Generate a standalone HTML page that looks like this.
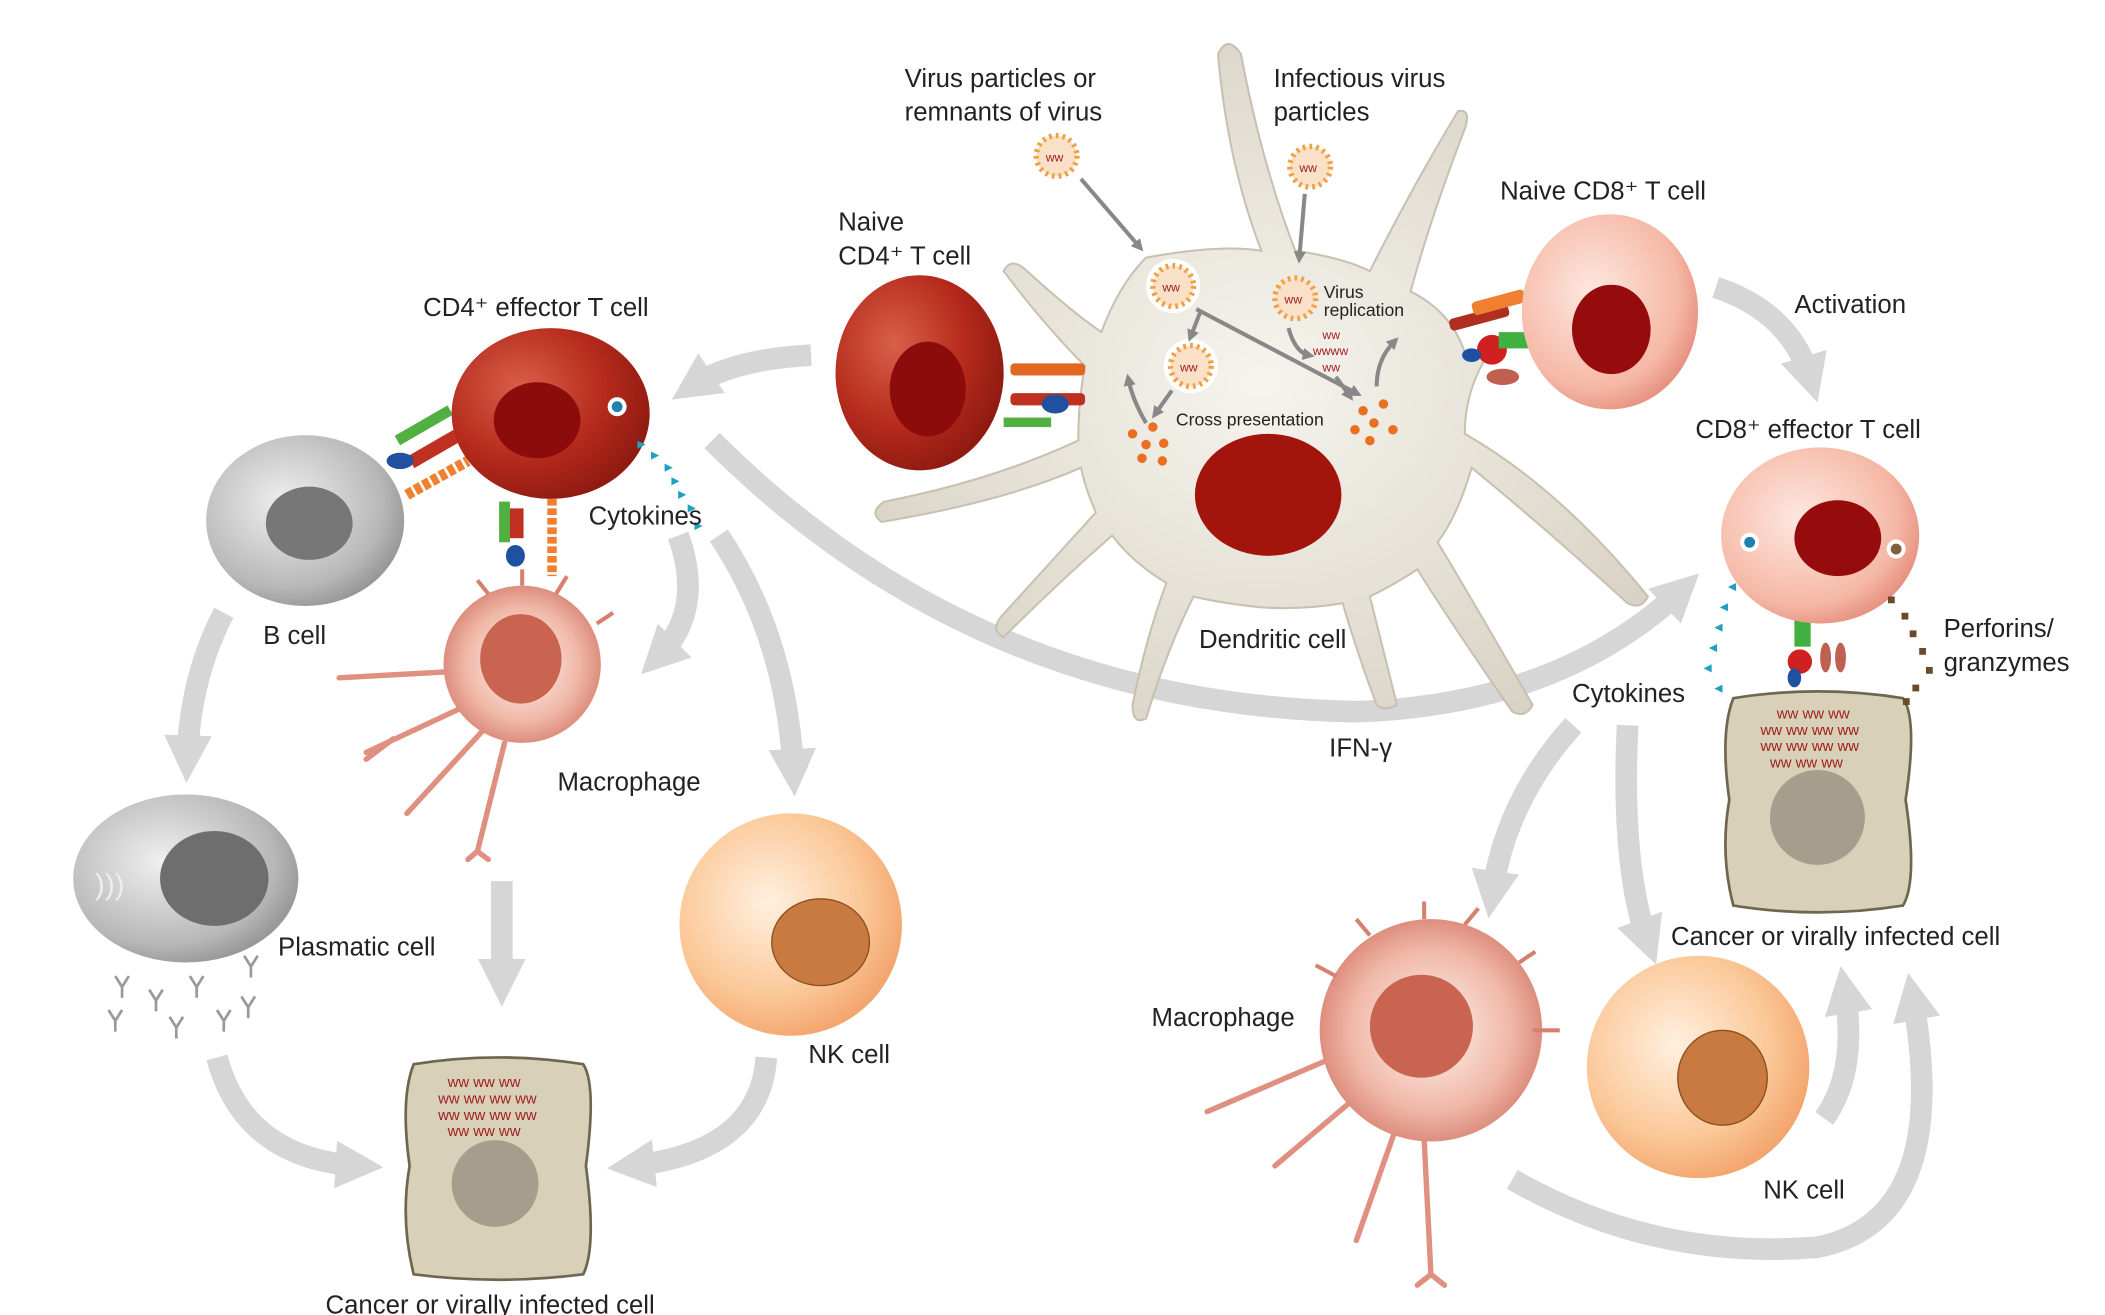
<!DOCTYPE html>
<html><head><meta charset="utf-8"><style>
html,body{margin:0;padding:0;background:#fff;}
svg{display:block;}
text{font-family:"Liberation Sans",sans-serif;fill:#222;}
</style></head><body>
<svg width="2105" height="1315" viewBox="0 0 1552 970" preserveAspectRatio="none" xmlns="http://www.w3.org/2000/svg">
<defs>
<radialGradient id="dred" cx="0.35" cy="0.35" r="0.7"><stop offset="0" stop-color="#d8604a"/><stop offset="0.6" stop-color="#b52a1c"/><stop offset="1" stop-color="#8e1a10"/></radialGradient>
<radialGradient id="pink" cx="0.4" cy="0.4" r="0.7"><stop offset="0" stop-color="#fde8e0"/><stop offset="0.7" stop-color="#f6b8a6"/><stop offset="1" stop-color="#e08070"/></radialGradient>
<radialGradient id="gray" cx="0.4" cy="0.4" r="0.7"><stop offset="0" stop-color="#f0f0f0"/><stop offset="0.7" stop-color="#b8b8b8"/><stop offset="1" stop-color="#888"/></radialGradient>
<radialGradient id="peach" cx="0.4" cy="0.4" r="0.7"><stop offset="0" stop-color="#fff0e0"/><stop offset="0.6" stop-color="#fbc898"/><stop offset="1" stop-color="#f09a60"/></radialGradient>
<radialGradient id="mac" cx="0.5" cy="0.5" r="0.6"><stop offset="0" stop-color="#fff6f2"/><stop offset="0.6" stop-color="#f0b8a8"/><stop offset="1" stop-color="#d07060"/></radialGradient>
<radialGradient id="dc" cx="0.5" cy="0.5" r="0.6"><stop offset="0" stop-color="#f6f4ee"/><stop offset="1" stop-color="#d8d2c4"/></radialGradient>
<marker id="ah" viewBox="0 0 10 10" refX="5" refY="5" markerWidth="2.2" markerHeight="2.2" orient="auto"><path d="M0,0 L10,5 L0,10 z" fill="#d6d6d6"/></marker>
<marker id="sa" viewBox="0 0 10 10" refX="5" refY="5" markerWidth="3" markerHeight="3" orient="auto"><path d="M0,0 L10,5 L0,10 z" fill="#888"/></marker>
</defs>

<g fill="none" stroke="#d6d6d6" stroke-width="16" marker-end="url(#ah)">
<path d="M598,262 Q540,265 510,285"/>
<path d="M525,325 Q720,520 1000,525 Q1150,520 1240,435"/>
<path d="M1265,212 Q1320,230 1335,280"/>
<path d="M165,452 Q140,500 138,560"/>
<path d="M500,395 Q520,450 485,485"/>
<path d="M530,395 Q580,470 585,570"/>
<path d="M370,650 L370,725"/>
<path d="M160,780 Q180,855 265,860"/>
<path d="M565,780 Q560,850 465,860"/>
<path d="M1160,535 Q1110,590 1100,660"/>
<path d="M1200,535 Q1195,640 1215,695"/>
<path d="M1345,825 Q1370,790 1360,730"/>
<path d="M1115,870 Q1220,930 1340,920 Q1440,900 1410,735"/>
</g>

<g fill="url(#dc)" stroke="#c8c0b0" stroke-width="1.5">
<path d="M845,190 Q900,180 930,185 Q905,120 898,40 Q905,25 915,40 Q930,120 955,185 Q990,190 1010,200 Q1040,140 1075,82 Q1085,80 1080,95 Q1055,160 1040,215 Q1070,230 1080,260 L1095,265 Q1080,290 1080,320 Q1150,360 1215,440 Q1210,450 1200,445 Q1140,390 1085,345 Q1075,380 1060,400 Q1090,450 1130,520 Q1125,530 1115,525 Q1070,460 1045,420 Q1030,430 1010,440 Q1020,480 1030,520 Q1020,525 1015,520 Q1000,480 990,445 Q960,450 930,448 Q900,445 880,440 Q860,480 845,530 Q835,535 835,520 Q845,470 860,430 Q835,415 820,395 Q780,430 740,470 Q730,465 738,455 Q770,420 808,378 Q800,360 797,345 Q740,370 650,385 Q640,378 652,370 Q730,355 795,325 Q795,295 800,270 Q770,240 740,200 Q745,190 755,198 Q790,230 812,245 Q825,210 845,190 Z"/>
</g>
<ellipse cx="935" cy="365" rx="54" ry="45" fill="#a3140c"/>

<g>
<circle cx="779" cy="115" r="15" fill="#fbe0c8" stroke="#f0a040" stroke-width="4" stroke-dasharray="2 3"/>
<circle cx="966" cy="123" r="15" fill="#fbe0c8" stroke="#f0a040" stroke-width="4" stroke-dasharray="2 3"/>
<circle cx="865" cy="211" r="20" fill="#fff"/><circle cx="865" cy="211" r="15" fill="#fbe0c8" stroke="#f0a040" stroke-width="4" stroke-dasharray="2 3"/>
<circle cx="878" cy="270" r="20" fill="#fff"/><circle cx="878" cy="270" r="15" fill="#fbe0c8" stroke="#f0a040" stroke-width="4" stroke-dasharray="2 3"/>
<circle cx="955" cy="220" r="15" fill="#fbe0c8" stroke="#f0a040" stroke-width="4" stroke-dasharray="2 3"/>
<g font-size="9"><text x="771" y="119" style="fill:#a02020">ww</text><text x="958" y="127" style="fill:#a02020">ww</text><text x="857" y="215" style="fill:#a02020">ww</text><text x="870" y="274" style="fill:#a02020">ww</text><text x="947" y="224" style="fill:#a02020">ww</text>
<text x="975" y="250" style="fill:#a02020">ww</text><text x="968" y="262" style="fill:#a02020">wwww</text><text x="975" y="274" style="fill:#a02020">ww</text></g>
<g fill="#e87020"><circle cx="835" cy="320" r="3.5"/><circle cx="850" cy="315" r="3.5"/><circle cx="845" cy="328" r="3.5"/><circle cx="858" cy="327" r="3.5"/><circle cx="842" cy="338" r="3.5"/><circle cx="857" cy="340" r="3.5"/>
<circle cx="1005" cy="303" r="3.5"/><circle cx="1020" cy="298" r="3.5"/><circle cx="1013" cy="312" r="3.5"/><circle cx="1027" cy="317" r="3.5"/><circle cx="999" cy="317" r="3.5"/><circle cx="1010" cy="325" r="3.5"/></g>
<g stroke="#888" stroke-width="3" fill="none" marker-end="url(#sa)">
<path d="M797,132 L840,182"/><path d="M962,143 L958,190"/><path d="M882,228 L1000,290"/><path d="M885,230 L878,248"/><path d="M864,288 L852,305"/><path d="M845,312 Q835,295 832,280"/><path d="M950,242 Q955,260 965,262"/><path d="M985,278 L995,292"/><path d="M1015,285 Q1015,265 1028,252"/>
</g>
</g>

<g>
<rect x="745" y="268" width="55" height="9" fill="#e06820" rx="3"/>
<rect x="745" y="290" width="55" height="9" fill="#c03020" rx="3"/>
<ellipse cx="778" cy="298" rx="10" ry="7" fill="#2050a0"/>
<rect x="740" y="308" width="35" height="7" fill="#50b040"/>
<rect x="1068" y="230" width="45" height="9" fill="#b03020" rx="3" transform="rotate(-15 1090 234)"/>
<rect x="1085" y="218" width="40" height="10" fill="#f08030" rx="3" transform="rotate(-15 1105 223)"/>
<circle cx="1100" cy="258" r="11" fill="#d02020"/><rect x="1105" y="245" width="22" height="12" fill="#40b040"/><ellipse cx="1085" cy="262" rx="7" ry="5" fill="#2050a0"/>
<ellipse cx="1108" cy="278" rx="12" ry="6" fill="#c06050"/>
<rect x="290" y="310" width="45" height="8" fill="#50b040" transform="rotate(-30 312 314)"/>
<rect x="300" y="325" width="45" height="10" fill="#c03020" transform="rotate(-30 322 330)"/>
<ellipse cx="295" cy="340" rx="10" ry="6" fill="#2050a0"/>
<line x1="300" y1="365" x2="345" y2="340" stroke="#f08030" stroke-width="8" stroke-dasharray="5 2"/>
<rect x="368" y="370" width="8" height="30" fill="#50b040"/><rect x="376" y="375" width="10" height="22" fill="#c03020"/><ellipse cx="380" cy="410" rx="7" ry="8" fill="#2050a0"/>
<line x1="407" y1="368" x2="407" y2="425" stroke="#f08030" stroke-width="7" stroke-dasharray="5 2"/>
<rect x="1323" y="455" width="12" height="22" fill="#40b040"/><circle cx="1327" cy="488" r="9" fill="#d02020"/><ellipse cx="1323" cy="500" rx="5" ry="7" fill="#2050a0"/>
<ellipse cx="1346" cy="485" rx="4" ry="11" fill="#c06050"/><ellipse cx="1357" cy="485" rx="4" ry="11" fill="#c06050"/>
</g>

<ellipse cx="678" cy="275" rx="62" ry="72" fill="url(#dred)"/><ellipse cx="684" cy="287" rx="28" ry="35" fill="#8c0c0c"/>
<ellipse cx="406" cy="305" rx="73" ry="63" fill="url(#dred)"/><ellipse cx="396" cy="310" rx="32" ry="28" fill="#8c0c0c"/>
<circle cx="455" cy="300" r="7" fill="#fff"/><circle cx="455" cy="300" r="4" fill="#2080b0"/>
<ellipse cx="225" cy="384" rx="73" ry="63" fill="url(#gray)"/><ellipse cx="228" cy="386" rx="32" ry="27" fill="#777"/>
<ellipse cx="137" cy="648" rx="83" ry="62" fill="url(#gray)"/><ellipse cx="158" cy="648" rx="40" ry="35" fill="#6e6e6e"/>
<text x="70" y="660" font-size="22" style="fill:#eee">)))</text>
<ellipse cx="1187" cy="230" rx="65" ry="72" fill="url(#pink)"/><ellipse cx="1188" cy="243" rx="29" ry="33" fill="#960c0c"/>
<ellipse cx="1342" cy="395" rx="73" ry="65" fill="url(#pink)"/><ellipse cx="1355" cy="397" rx="32" ry="28" fill="#960c0c"/>
<circle cx="1290" cy="400" r="7" fill="#fff"/><circle cx="1290" cy="400" r="4" fill="#2080b0"/><circle cx="1398" cy="405" r="7" fill="#fff"/><circle cx="1398" cy="405" r="4" fill="#806040"/>

<g fill="none" stroke="#e09080" stroke-width="4" stroke-linecap="round">
<path d="M340,495 L250,500 M345,520 L270,555 M290,545 L270,560 M355,540 L300,600 M372,548 L352,628 M352,628 L345,634 M352,628 L360,634"/>
<path d="M995,775 L890,820 M1005,805 L940,860 M1030,830 L1000,915 M1050,840 L1055,940 M1055,940 L1045,948 M1055,940 L1065,948"/>
</g>
<g fill="url(#mac)">
<circle cx="385" cy="490" r="58"/>
<circle cx="1055" cy="760" r="82"/>
</g>
<g stroke="#d88070" stroke-width="3"><path d="M385,432 V420 M410,438 L418,425 M440,460 L452,452 M360,438 L352,428 M1050,678 V665 M1080,682 L1090,670 M1120,710 L1132,702 M1130,760 H1150 M1010,690 L1000,678 M985,720 L970,712"/></g>
<ellipse cx="384" cy="486" rx="30" ry="33" fill="#c86450"/>
<ellipse cx="1048" cy="757" rx="38" ry="38" fill="#c86450"/>

<circle cx="583" cy="682" r="82" fill="url(#peach)"/><ellipse cx="605" cy="695" rx="36" ry="32" fill="#c97a40" stroke="#8a5020"/>
<circle cx="1252" cy="787" r="82" fill="url(#peach)"/><ellipse cx="1270" cy="795" rx="33" ry="35" fill="#c97a40" stroke="#8a5020"/>

<g fill="#d8d0b8" stroke="#6e6650" stroke-width="2">
<path d="M305,785 Q367,775 430,785 Q440,800 432,860 Q440,920 430,940 Q367,948 305,940 Q295,900 302,860 Q295,810 305,785Z"/>
<path d="M1278,515 Q1340,505 1403,515 Q1414,530 1405,590 Q1414,650 1403,668 Q1340,678 1278,668 Q1268,630 1275,590 Q1268,540 1278,515Z"/>
</g>
<circle cx="365" cy="873" r="32" fill="#a59e8c"/><circle cx="1340" cy="603" r="35" fill="#a59e8c"/>
<g font-size="11"><text x="330" y="802" style="fill:#a02020">ww ww ww</text><text x="323" y="814" style="fill:#a02020">ww ww ww ww</text><text x="323" y="826" style="fill:#a02020">ww ww ww ww</text><text x="330" y="838" style="fill:#a02020">ww ww ww</text>
<text x="1310" y="530" style="fill:#a02020">ww ww ww</text><text x="1298" y="542" style="fill:#a02020">ww ww ww ww</text><text x="1298" y="554" style="fill:#a02020">ww ww ww ww</text><text x="1305" y="566" style="fill:#a02020">ww ww ww</text></g>

<g fill="#20a0c0"><path d="M470,325l6,3-6,3z M480,333l6,3-6,3z M490,342l6,3-6,3z M495,352l6,3-6,3z M500,362l6,3-6,3z M507,372l6,3-6,3z M512,385l6,3-6,3z M1280,430l-6,3 6,3z M1274,445l-6,3 6,3z M1270,460l-6,3 6,3z M1266,475l-6,3 6,3z M1262,490l-6,3 6,3z M1270,505l-6,3 6,3z"/></g>
<g fill="#6a4a2a"><rect x="1392" y="440" width="5" height="5"/><rect x="1402" y="452" width="5" height="5"/><rect x="1408" y="465" width="5" height="5"/><rect x="1415" y="478" width="5" height="5"/><rect x="1420" y="492" width="5" height="5"/><rect x="1410" y="505" width="5" height="5"/><rect x="1403" y="515" width="5" height="5"/></g>
<g stroke="#999" stroke-width="2" fill="none"><path d="M85,720 l5,8 5,-8 M90,728 v8 M110,730 l5,8 5,-8 M115,738 v8 M140,720 l5,8 5,-8 M145,728 v8 M80,745 l5,8 5,-8 M85,753 v8 M125,750 l5,8 5,-8 M130,758 v8 M160,745 l5,8 5,-8 M165,753 v8 M178,735 l5,8 5,-8 M183,743 v8 M180,705 l5,8 5,-8 M185,713 v8"/></g>

<g font-size="19" transform="translate(-4,0)">
<text x="671" y="64">Virus particles or</text><text x="671" y="89">remnants of virus</text>
<text x="943" y="64">Infectious virus</text><text x="943" y="89">particles</text>
<text x="622" y="170">Naive</text><text x="622" y="195">CD4⁺ T cell</text>
<text x="316" y="233">CD4⁺ effector T cell</text>
<text x="1110" y="147">Naive CD8⁺ T cell</text>
<text x="1327" y="231">Activation</text>
<text x="1254" y="323">CD8⁺ effector T cell</text>
<text x="438" y="387">Cytokines</text>
<text x="198" y="475">B cell</text>
<text x="888" y="478">Dendritic cell</text>
<text x="1437" y="470">Perforins/</text><text x="1437" y="495">granzymes</text>
<text x="1163" y="518">Cytokines</text>
<text x="984" y="558">IFN-γ</text>
<text x="415" y="583">Macrophage</text>
<text x="1236" y="697">Cancer or virally infected cell</text>
<text x="209" y="705">Plasmatic cell</text>
<text x="853" y="757">Macrophage</text>
<text x="600" y="784">NK cell</text>
<text x="1304" y="884">NK cell</text>
<text x="244" y="969">Cancer or virally infected cell</text>
</g>
<g font-size="13" transform="translate(-4,0)"><text x="980" y="220">Virus</text><text x="980" y="233">replication</text><text x="871" y="314">Cross presentation</text></g>
</svg>
</body></html>
